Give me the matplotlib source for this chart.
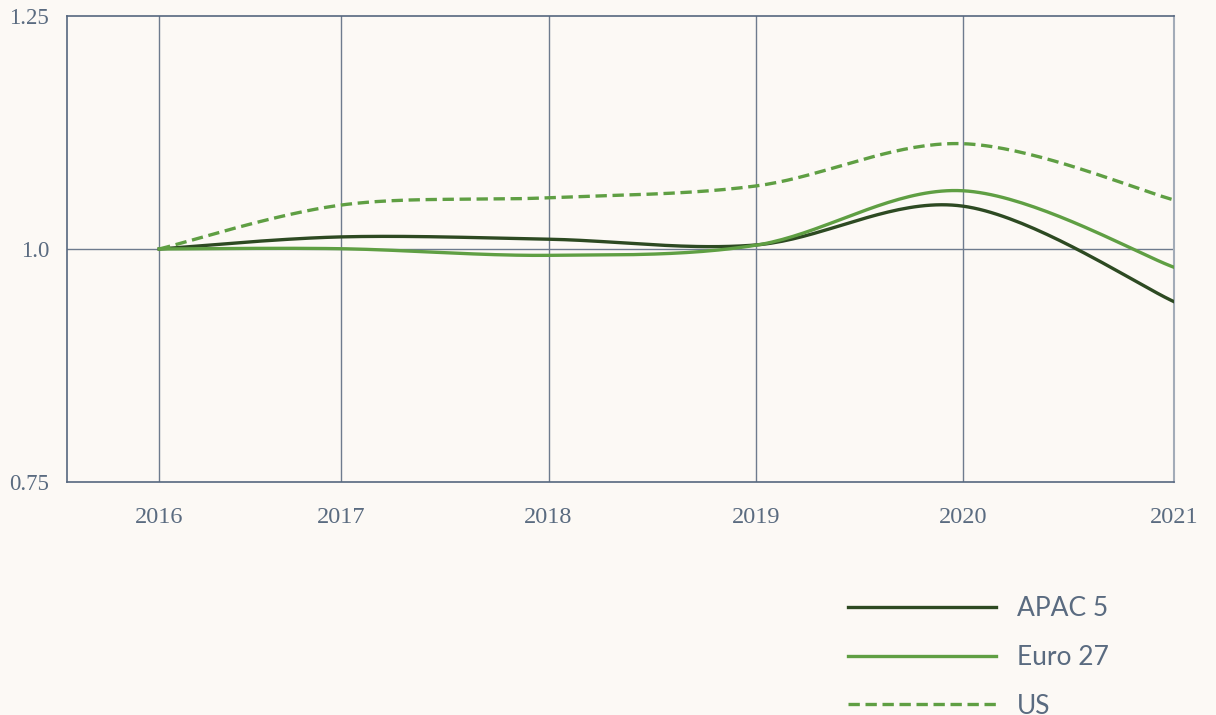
import numpy as np
import matplotlib.pyplot as plt
from matplotlib.lines import Line2D

# data
years = [2016.12, 2017, 2018, 2019, 2020, 2021.02]
year_labels = ["2016", "2017", "2018", "2019", "2020", "2021"]
apac = [1.0, 1.013, 1.0105, 1.0043, 1.046, 0.9435]
euro = [1.0, 1.0003, 0.9932, 1.004, 1.0625, 0.9804]
us = [1.0, 1.0472, 1.055, 1.0676, 1.113, 1.0526]

series = [
    ("APAC 5", apac, "#2d4a22", "-"),
    ("Euro 27", euro, "#5f9f43", "-"),
    ("US", us, "#5f9f43", "--"),
]

BG = "#fcf9f5"
AXIS = "#56677f"
GRID = "#6e7b8e"
TXT = "#5a6b80"
DASH = (0, (3.4, 1.7))


def cardinal(xs, ys, n=40):
    # cardinal spline (tension 0) drawn as bezier segments
    p = np.column_stack([xs, ys]).astype(float)
    p = np.vstack([p[0], p, p[-1]])
    out = []
    for i in range(1, len(p) - 2):
        p0, p1, p2, p3 = p[i - 1], p[i], p[i + 1], p[i + 2]
        c1 = p1 + (p2 - p0) / 6
        c2 = p2 - (p3 - p1) / 6
        t = np.linspace(0, 1, n)[:, None]
        seg = ((1 - t) ** 3) * p1 + 3 * ((1 - t) ** 2) * t * c1 + 3 * (1 - t) * t**2 * c2 + t**3 * p2
        out.append(seg if i == 1 else seg[1:])
    out = np.vstack(out)
    return out[:, 0], out[:, 1]


fig = plt.figure(figsize=(12.16, 7.15), dpi=100, facecolor=BG)
ax = fig.add_axes([67 / 1216, 1 - 482 / 715, (1174 - 67) / 1216, (482 - 16) / 715])
ax.set_facecolor(BG)

for x in years:
    ax.axvline(x, color=GRID, lw=1.0, zorder=1)
ax.axhline(1.0, color=GRID, lw=1.0, zorder=1)

for name, vals, col, ls in series:
    sx, sy = cardinal(years, vals)
    ax.plot(sx, sy, color=col, lw=2.4, ls=DASH if ls == "--" else "-", zorder=3, label=name)

ax.set_xlim(2015.675, 2021.02)
ax.set_ylim(0.75, 1.25)
ax.set_xticks(years)
ax.set_xticklabels(year_labels)
ax.set_yticks([0.75, 1.0, 1.25])
ax.set_yticklabels(["0.75", "1.0", "1.25"])
ax.tick_params(length=0, colors=TXT)
ax.tick_params(axis="x", pad=18, labelsize=17.5)
ax.tick_params(axis="y", pad=13, labelsize=16.5)
for lab in ax.get_xticklabels() + ax.get_yticklabels():
    lab.set_fontfamily("Liberation Serif")
    lab.set_color(TXT)

for side in ["left", "top", "bottom"]:
    ax.spines[side].set_color(AXIS)
    ax.spines[side].set_linewidth(1.2)
ax.spines["right"].set_color("#a3acb8")
ax.spines["right"].set_linewidth(1.5)

leg = fig.legend(
    handles=[Line2D([], [], color=c, lw=2.4, ls=DASH if l == "--" else "-")
             for _, _, c, l in series],
    labels=[s[0] for s in series],
    loc="upper left",
    bbox_to_anchor=(835 / 1216, 1 - 583 / 715),
    frameon=False,
    handlelength=5.6,
    handletextpad=0.8,
    labelspacing=0.9,
    borderpad=0,
    prop={"family": "Lato", "size": 19},
)
for t in leg.get_texts():
    t.set_color(TXT)

fig.savefig("out.png", dpi=100, facecolor=BG)
